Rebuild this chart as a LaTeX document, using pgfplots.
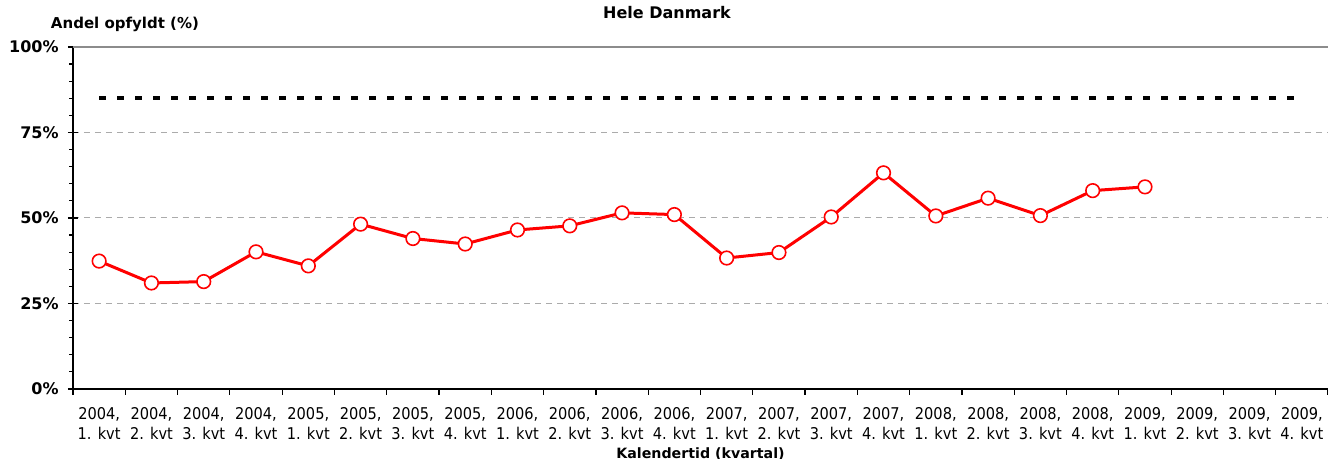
\documentclass[border=0pt]{standalone}
\usepackage{pgfplots}
\pgfplotsset{compat=1.18}
\usepackage{fontspec}
\setmainfont{DejaVu Sans}
\newfontfamily\cond{DejaVu Sans Condensed}
\begin{document}
\begin{tikzpicture}
\begin{axis}[
  name=ax, scale only axis, width=627.5pt, height=171pt,
  xmin=-0.5, xmax=23.5, ymin=0, ymax=100,
  clip=false,
  axis x line*=bottom, axis y line*=left,
  axis line style={black, line width=1pt, -},
  tick align=outside, major tick length=3pt, minor tick length=1.75pt,
  tick style={black, line width=0.6pt},
  x tick label as interval,
  xtick={-0.5,0.5,...,23.5},
  xticklabels={{2004,\\1. kvt},{2004,\\2. kvt},{2004,\\3. kvt},{2004,\\4. kvt},
    {2005,\\1. kvt},{2005,\\2. kvt},{2005,\\3. kvt},{2005,\\4. kvt},
    {2006,\\1. kvt},{2006,\\2. kvt},{2006,\\3. kvt},{2006,\\4. kvt},
    {2007,\\1. kvt},{2007,\\2. kvt},{2007,\\3. kvt},{2007,\\4. kvt},
    {2008,\\1. kvt},{2008,\\2. kvt},{2008,\\3. kvt},{2008,\\4. kvt},
    {2009,\\1. kvt},{2009,\\2. kvt},{2009,\\3. kvt},{2009,\\4. kvt}},
  xticklabel style={align=center, font=\cond\fontsize{8.1}{10.2}\selectfont, inner sep=0pt, yshift=-6pt},
  ytick={0,25,50,75,100},
  minor y tick num=4,
  every major y tick/.style={draw=none},
  yticklabel={\textbf{\pgfmathprintnumber{\tick}\%}},
  yticklabel style={font=\fontsize{8}{9.6}\selectfont, inner sep=0pt, xshift=-4pt},
  /pgf/number format/assume math mode=true,
  extra y ticks={0,25,50,75,100},
  extra y tick labels={},
  extra y tick style={grid=none, tick align=center, major tick length=5pt,
    every major y tick/.style={draw=black, line width=0.6pt}},
  ymajorgrids,
  major grid style={color=black!33, dash pattern=on 3pt off 2.5pt, line width=0.5pt},
]
\draw[black!45, line width=0.8pt] (rel axis cs:0,1) -- (rel axis cs:1,1);
\addplot[black, line width=2pt, dash pattern=on 3.2pt off 5.8pt] coordinates {(0,85) (23.04,85)};
\addplot[red, line width=1.5pt, mark=*, mark size=3.4pt,
  mark options={fill=white, draw=red, line width=0.8pt, solid}] coordinates {
  (0,37.4) (1,31.0) (2,31.4) (3,40.1) (4,36.0) (5,48.2) (6,44.0) (7,42.4)
  (8,46.5) (9,47.7) (10,51.5) (11,51.0) (12,38.3) (13,39.9) (14,50.3) (15,63.2)
  (16,50.6) (17,55.8) (18,50.7) (19,58.0) (20,59.1)};
\node[font=\bfseries\fontsize{8}{9.6}\selectfont] at (rel axis cs:0.4733,1) [yshift=17pt] {Hele Danmark};
\node[font=\bfseries\fontsize{7.5}{9}\selectfont] at (rel axis cs:0.0414,1) [yshift=11.5pt] {Andel opfyldt (\%)};
\node[font=\bfseries\fontsize{7.1}{8.5}\selectfont] at (rel axis cs:0.5,0) [yshift=-32.5pt] {Kalendertid (kvartal)};
\end{axis}
\pgfresetboundingbox
\path[use as bounding box] ([xshift=-36.5pt,yshift=-35pt]ax.south west) rectangle ([yshift=23.5pt]ax.north east);
\end{tikzpicture}
\end{document}
